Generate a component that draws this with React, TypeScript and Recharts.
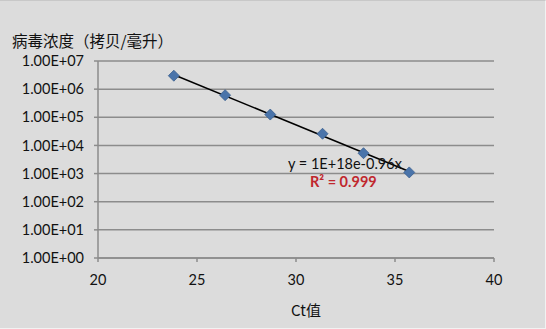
import {
  ScatterChart,
  Scatter,
  XAxis,
  YAxis,
  CartesianGrid,
} from "recharts";

// Ct values and virus concentration (copies/ml)
const CT_VALUES = [23.83, 26.42, 28.7, 31.34, 33.41, 35.72];
const CONCENTRATIONS = [3.0e6, 6.1e5, 1.25e5, 2.6e4, 5.3e3, 1.1e3];
const X_TICKS = [20, 25, 30, 35, 40];
const Y_TICKS = [1, 10, 100, 1e3, 1e4, 1e5, 1e6, 1e7];

const points = CT_VALUES.map((ct, i) => ({ x: ct, y: CONCENTRATIONS[i] }));

// exponential trendline, least squares on ln(y)
function fitTrend() {
  const n = points.length;
  const lx = points.map((p) => p.x);
  const ly = points.map((p) => Math.log(p.y));
  const mx = lx.reduce((a, b) => a + b, 0) / n;
  const my = ly.reduce((a, b) => a + b, 0) / n;
  let num = 0;
  let den = 0;
  for (let i = 0; i < n; i++) {
    num += (lx[i] - mx) * (ly[i] - my);
    den += (lx[i] - mx) ** 2;
  }
  const b = num / den;
  const a = my - b * mx;
  const x0 = lx[0];
  const x1 = lx[n - 1];
  return [
    { x: x0, y: Math.exp(a + b * x0) },
    { x: x1, y: Math.exp(a + b * x1) },
  ];
}

const trend = fitTrend();

const FONT = "Lato, 'Noto Sans CJK SC', sans-serif";

const formatSci = (v: number) => {
  const exp = Math.round(Math.log10(v));
  return `1.00E+${String(exp).padStart(2, "0")}`;
};

function Diamond(props: any) {
  const { cx, cy } = props;
  if (cx == null || cy == null) return null;
  const r = 5.5;
  return (
    <path
      d={`M${cx},${cy - r}L${cx + r},${cy}L${cx},${cy + r}L${cx - r},${cy}Z`}
      fill="#4a74aa"
      stroke="#3b5f8e"
      strokeWidth={0.8}
    />
  );
}

function TitleLabel() {
  return (
    <text
      x={12}
      y={46}
      fontSize={15.5}
      fill="#111"
      fontFamily="'Noto Sans CJK SC', sans-serif"
    >
      病毒浓度（拷贝/毫升）
    </text>
  );
}

export default function App() {
  return (
    <div
      style={{
        position: "absolute",
        left: 0,
        top: 0,
        width: 546,
        height: 329,
        background: "#dcdcdc",
        boxSizing: "border-box",
        borderRight: "1px solid #f2f2f2",
        borderBottom: "1px solid #f2f2f2",
        borderTop: "1px solid #c8c8c8",
        fontFamily: FONT,
      }}
    >
      <ScatterChart
        width={545}
        height={327}
        margin={{ top: 60, right: 51, bottom: 0, left: 0 }}
      >
        <CartesianGrid
          horizontal
          vertical={false}
          stroke="#8c8c8c"
          strokeWidth={1.5}
        />
        <XAxis
          type="number"
          dataKey="x"
          domain={[20, 40]}
          ticks={X_TICKS}
          tickSize={4}
          tickMargin={13}
          height={70}
          stroke="#8c8c8c"
          strokeWidth={1.5}
          tick={{ fill: "#111", fontSize: 14.5, fontFamily: FONT }}
          label={{
            value: "Ct值",
            position: "insideBottom",
            offset: 12,
            dx: 10,
            fill: "#111",
            fontSize: 15,
            fontFamily: "'Noto Sans CJK SC', sans-serif",
          }}
        />
        <YAxis
          type="number"
          dataKey="y"
          scale="log"
          domain={[1, 1e7]}
          ticks={Y_TICKS}
          allowDataOverflow
          width={98}
          tickSize={4}
          tickMargin={10}
          stroke="#8c8c8c"
          strokeWidth={1.5}
          tickFormatter={formatSci}
          tick={{ fill: "#111", fontSize: 14.5, fontFamily: FONT }}
          label={{ content: () => <TitleLabel /> }}
        />
        <Scatter
          data={trend}
          line={{ stroke: "#000", strokeWidth: 1.5 }}
          shape={() => null}
          isAnimationActive={false}
        />
        <Scatter data={points} shape={<Diamond />} isAnimationActive={false} />
      </ScatterChart>
      <div
        style={{
          position: "absolute",
          left: 288,
          top: 154,
          fontSize: 14.5,
          color: "#111",
          whiteSpace: "nowrap",
          lineHeight: "18px",
        }}
      >
        y = 1E+18e-0.96x
      </div>
      <div
        style={{
          position: "absolute",
          left: 310,
          top: 172,
          fontSize: 14.5,
          fontWeight: "bold",
          color: "#c0272d",
          whiteSpace: "nowrap",
          lineHeight: "18px",
        }}
      >
        R² = 0.999
      </div>
    </div>
  );
}
